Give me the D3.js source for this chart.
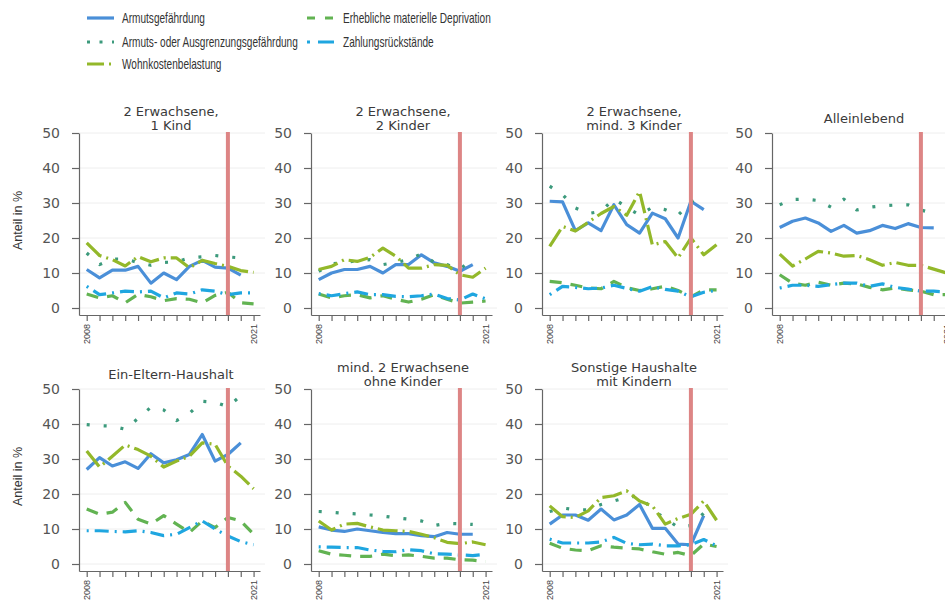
<!DOCTYPE html>
<html>
<head>
<meta charset="utf-8">
<script src="https://cdn.jsdelivr.net/npm/d3@7"></script>
<style>
  body { margin: 0; background: #fff; }
  svg { display: block; }
</style>
</head>
<body>
<svg id="chart" width="945" height="610"></svg>
<script>
// small multiples: poverty indicators by household type, 2008-2021

let years = d3.range(2008, 2022);
let breakYear = 2019;

let titles = [
    ["2 Erwachsene,", "1 Kind"],
    ["2 Erwachsene,", "2 Kinder"],
    ["2 Erwachsene,", "mind. 3 Kinder"],
    ["Alleinlebend"],
    ["Ein-Eltern-Haushalt"],
    ["mind. 2 Erwachsene", "ohne Kinder"],
    ["Sonstige Haushalte", "mit Kindern"]
];

// one row per panel, 2008 .. 2021
let armut = [
    [11, 8.6, 10.8, 10.8, 11.9, 7.1, 10, 8.1, 11.9, 13.6, 11.7, 11.4, 9.4, null],
    [8.1, 10, 11, 11, 11.9, 10, 12.4, 12.4, 15.2, 12.9, 11.9, 10.5, 12.4, null],
    [30.5, 30.3, 22.1, 24.3, 22.1, 29.5, 23.8, 21.4, 27.1, 25.5, 20, 30.5, 28.1, null],
    [23, 24.8, 25.7, 24.3, 21.9, 23.6, 21.4, 22.1, 23.6, 22.7, 24.1, 23, 22.9, null],
    [27, 30.4, 28, 29.2, 27.3, 31.5, 28.9, 29.8, 31.3, 37, 29.4, 31.3, 34.6, null],
    [10.6, 9.7, 9.3, 10, 9.5, 9, 8.7, 8.7, 8.1, 7.8, 9, 8.5, 8.5, null],
    [11.4, 14, 14, 12.5, 15.7, 12.6, 14, 17, 10.2, 10.2, 5.7, 5.5, 13.8, null]
];

let arope = [
    [15.7, 12.4, 14, 14, 13, 12.2, 13, 13.2, 14.3, 14.6, 15, 14.6, 14.3, null],
    [10.5, 12.6, 13, 13.5, 13.8, 12.4, 13, 13.8, 15.5, 13, 12.4, 11, 14.3, null],
    [34.8, 32.4, 28.6, 27, 27.6, 31.2, 28.8, 26.5, 28.8, 28.1, 26.5, 30.3, 32.3, null],
    [29.5, 31, 31.1, 30.7, 28.8, 31.1, 28, 28.8, 29.2, 29.4, 29.5, 28, 27, null],
    [39.8, 39.5, 39.4, 38.5, 41.6, 44.8, 44, 41, 43, 46.5, 46.2, 45, 48, null],
    [15, 14.8, 14.5, 14.3, 14, 13.7, 13.2, 12.8, 12.3, 11, 11.6, 11.5, 11.3, null],
    [15, 16, 15.5, 15.5, 17, 18, 19, 19.5, 15.5, 13, 10.5, 11, 14.5, null]
];

let wohnkosten = [
    [18.6, 15, 13.8, 12, 14.7, 13.2, 14.3, 14.3, 11.5, 13.6, 12.7, 11.9, 10.7, 10.2],
    [11, 11.9, 13.8, 13.3, 14.5, 17.1, 14.8, 11.4, 11.4, 12.4, 12.2, 9.5, 8.8, 11.4],
    [17.6, 23.3, 22, 24.5, 27, 29, 26.5, 33.3, 18, 19, 14.3, 20, 15.2, 18.1],
    [15.4, 12, 14, 16.2, 15.7, 14.8, 15, 13.8, 12.2, 13, 12.2, 12.2, 11.1, 10],
    [32.3, 27.7, 30.8, 34, 32.7, 30.8, 27.7, 29.4, 30.8, 34.6, 34.2, 28, 25.1, 21.5],
    [12.3, 9.7, 11.4, 11.6, 10.6, 9.7, 9.5, 9.3, 8.5, 7.5, 6.2, 5.8, 6.3, 5.5],
    [16.6, 13.5, 13.3, 15.2, 19, 19.5, 20.9, 18, 16.6, 11.4, 13, 14.2, 18, 12.5]
];

let deprivation = [
    [4, 2.9, 3.5, 1.5, 3.9, 3.2, 2.1, 2.7, 2.5, 1.5, 3.6, 4.5, 1.5, 1.2],
    [4, 2.9, 3.5, 3.8, 2.9, 3.5, 2.5, 1.7, 2.5, 3.8, 2.5, 1.4, 1.7, 2],
    [7.6, 7.2, 6.5, 5.7, 5.5, 7.6, 5.8, 5, 5.5, 6.2, 5, 3.2, 5.2, 5.2],
    [9.5, 7.1, 6.5, 7.4, 6.5, 7.1, 6.9, 5.9, 5.2, 5.7, 5.2, 4.8, 3.8, 3.8],
    [15.7, 14.2, 14.8, 17.6, 12.8, 11.4, 13.8, 11.4, 9, 12.3, 10.4, 13.3, 12.3, 8.5],
    [3.8, 2.8, 2.5, 2.2, 2.2, 2.8, 2.4, 2.6, 2.2, 1.7, 1.7, 1.2, 1.1, 0.7],
    [5.9, 4.5, 4, 3.8, 5.2, 4.8, 4.5, 4.3, 3.5, 2.8, 3.3, 2.4, 5.7, 5]
];

let rueckstaende = [
    [6.2, 3.8, 4.3, 4.8, 4.6, 4.8, 2.9, 4.3, 4, 5.2, 4.8, 3.8, 4.3, 4.3],
    [4.1, 3.5, 4.1, 4.6, 3.8, 3.8, 3.3, 3.2, 3.5, 4, 2.7, 2.3, 4, 2.6],
    [3.8, 6.2, 5.9, 5.5, 5.7, 6.5, 5.6, 4.8, 6.1, 5.3, 4.8, 3.2, 4.5, 5],
    [5.7, 6.5, 6.5, 6.2, 6.7, 7.1, 7.1, 6.2, 6.9, 5.9, 5.4, 4.8, 4.8, 4.6],
    [9.5, 9.5, 9.3, 9.2, 9.5, 9, 8.1, 8.5, 10.4, 12.3, 10, 8, 6.4, 5.5],
    [4.9, 4.8, 4.7, 4.7, 4, 3.6, 3.5, 4.1, 3.8, 2.9, 2.8, 2.6, 2.4, 2.8],
    [7.1, 6, 6, 6, 6.3, 7.6, 5.9, 5.5, 5.7, 5.2, 5.2, 5.5, 7, 5.2]
];

let yTicks = [0, 10, 20, 30, 40, 50];

// series styling, in legend order (dash = panel pattern, key = legend sample)
let series = [
    {name: "Armutsgefährdung", data: armut, color: "#4a8fd8", dash: null, key: null},
    {name: "Armuts- oder Ausgrenzungsgefährdung", data: arope, color: "#3c9a7c", dash: "3,14", key: "3,9.5"},
    {name: "Wohnkostenbelastung", data: wohnkosten, color: "#93b82a", dash: "20,5,2,5", key: "17,5,2,5"},
    {name: "Erhebliche materielle Deprivation", data: deprivation, color: "#62b352", dash: "12,9", key: "8,10"},
    {name: "Zahlungsrückstände", data: rueckstaende, color: "#1fa6e0", dash: "2,6,14,6", key: "3,8,16,2"}
];

let svg = d3.select("#chart");

// panel corners (y-axis x, top of plot)
let colX = [79, 311, 542, 772];
let rowY = [133, 389];

let x = d3.scaleLinear([2007.4, 2021.5], [0, 181]);
let y = d3.scaleLinear([-2, 50], [182, 0]);

let line = d3.line()
    .defined(d => d.v != null)
    .x(d => x(d.year))
    .y(d => y(d.v));

for (let p = 0; p < titles.length; p++) {
    let col = p < 4 ? p : p - 4;
    let row = p < 4 ? 0 : 1;
    let g = svg.append("g")
        .attr("transform", "translate(" + colX[col] + "," + rowY[row] + ")");

    // grid
    g.selectAll(".grid")
        .data(yTicks)
        .join("line")
        .attr("x1", 0)
        .attr("x2", 186)
        .attr("y1", d => y(d))
        .attr("y2", d => y(d))
        .attr("stroke", "#eeeeee")
        .attr("stroke-width", 1);

    // title
    let t = titles[p];
    let base = t.length == 2 ? [-17, -3] : [-10];
    t.forEach((s, i) => {
        g.append("text")
            .attr("x", 92)
            .attr("y", base[i])
            .attr("text-anchor", "middle")
            .attr("font-family", "DejaVu Sans")
            .attr("font-size", 13)
            .attr("fill", "#3a3a3a")
            .text(s);
    });

    // axes
    let yAxis = g.append("g")
        .call(d3.axisLeft(y).tickValues(yTicks).tickSize(7).tickSizeOuter(0).tickPadding(12));
    yAxis.selectAll("text")
        .attr("font-family", "DejaVu Sans")
        .attr("font-size", 14)
        .attr("fill", "#555");

    let xAxis = g.append("g")
        .attr("transform", "translate(0," + y(-2) + ")")
        .call(d3.axisBottom(x).tickValues(years).tickSize(6).tickSizeOuter(0)
            .tickFormat(d => (d == 2008 || d == 2021) ? d : ""));
    xAxis.selectAll("text")
        .attr("font-family", "Liberation Sans")
        .attr("font-size", 9)
        .attr("fill", "#444")
        .attr("transform", "rotate(-90)")
        .attr("text-anchor", "end")
        .attr("x", -9)
        .attr("y", 0)
        .attr("dy", "0.35em");

    g.selectAll(".domain, .tick line")
        .attr("stroke", "#666")
        .attr("stroke-width", 1.2);

    if (col == 0) {
        g.append("text")
            .attr("transform", "translate(-61," + y(25) + ")rotate(-90)")
            .attr("text-anchor", "middle")
            .attr("dy", "0.35em")
            .attr("font-family", "Liberation Sans")
            .attr("font-size", 12.5)
            .attr("fill", "#333")
            .text("Anteil in %");
    }

    // lines
    series.forEach(s => {
        let pts = years.map((yr, i) => ({year: yr, v: s.data[p][i]}));
        g.append("path")
            .datum(pts)
            .attr("d", line)
            .attr("fill", "none")
            .attr("stroke", s.color)
            .attr("stroke-width", 3.2)
            .attr("stroke-linejoin", "round")
            .attr("stroke-dasharray", s.dash);
    });

    // 2019 marker
    g.append("line")
        .attr("x1", x(breakYear))
        .attr("x2", x(breakYear))
        .attr("y1", -1)
        .attr("y2", y(-2))
        .attr("stroke", "#dd8585")
        .attr("stroke-width", 4);
}

// legend
let legendPos = [[87, 18], [87, 42], [87, 64], [307, 18], [307, 42]];
series.forEach((s, i) => {
    let lx = legendPos[i][0], ly = legendPos[i][1];
    svg.append("line")
        .attr("x1", lx).attr("x2", lx + 27)
        .attr("y1", ly).attr("y2", ly)
        .attr("stroke", s.color)
        .attr("stroke-width", 3.2)
        .attr("stroke-dasharray", s.key);
    // label is narrow in the original, squeeze horizontally
    svg.append("text")
        .attr("transform", "translate(" + (lx + (i < 3 ? 35 : 36)) + "," + ly + ")scale(0.72,1)")
        .attr("dy", "0.35em")
        .attr("font-family", "Liberation Sans")
        .attr("font-size", 14)
        .attr("fill", "#333")
        .text(s.name);
});
</script>
</body>
</html>
